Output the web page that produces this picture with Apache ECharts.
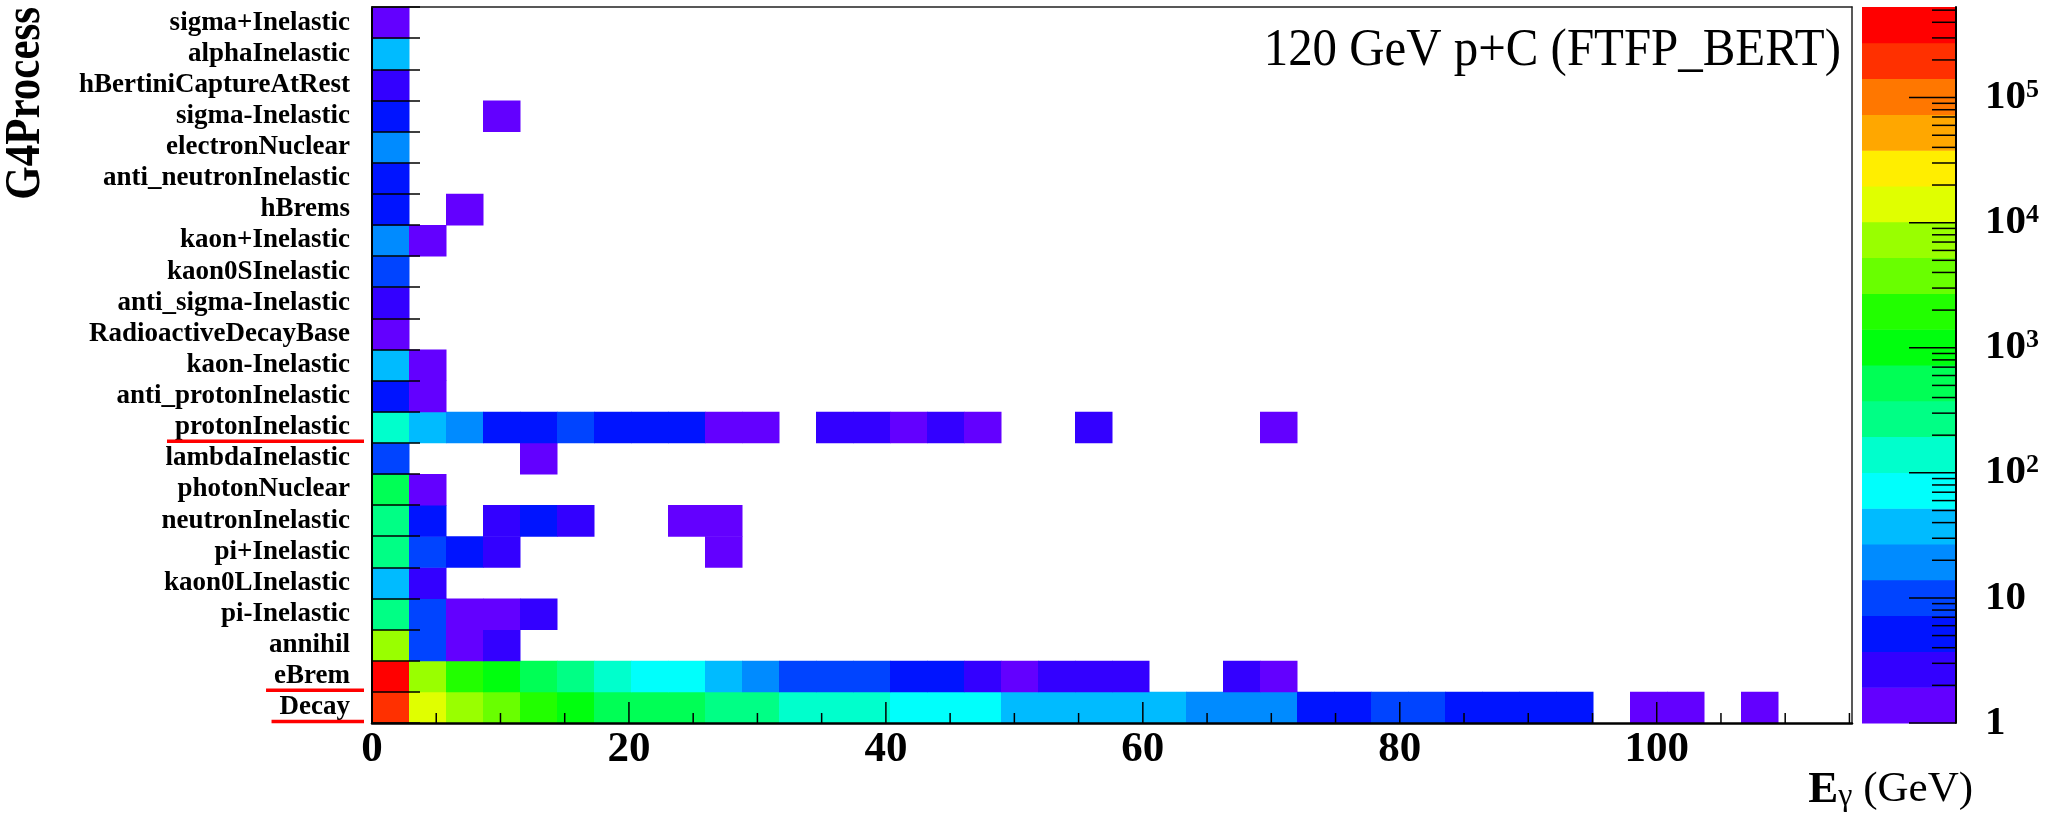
<!DOCTYPE html>
<html>
<head>
<meta charset="utf-8">
<title>G4Process vs photon energy</title>
<script src="https://cdn.jsdelivr.net/npm/echarts@6/dist/echarts.min.js"></script>
<style>
  html, body { margin: 0; padding: 0; background: #ffffff; }
  #chart { width: 2055px; height: 817px; }
</style>
</head>
<body>
<div id="chart"></div>
<script>
// Photon energy binning: 40 bins of 2.88 GeV each
const binWidth = 2.88;
const xMax = 115.2;
const xMajorTicks = [0, 20, 40, 60, 80, 100];
const xMinorTicks = [5, 10, 15, 25, 30, 35, 45, 50, 55, 65, 70, 75, 85, 90, 95, 105, 110, 115];

// Upper end of the logarithmic colour scale (lower end is 1)
const zMax = 5.3e5;

// Creator processes, bottom row first
const processes = [
  'Decay', 'eBrem', 'annihil', 'pi-Inelastic', 'kaon0LInelastic', 'pi+Inelastic',
  'neutronInelastic', 'photonNuclear', 'lambdaInelastic', 'protonInelastic',
  'anti_protonInelastic', 'kaon-Inelastic', 'RadioactiveDecayBase', 'anti_sigma-Inelastic',
  'kaon0SInelastic', 'kaon+Inelastic', 'hBrems', 'anti_neutronInelastic', 'electronNuclear',
  'sigma-Inelastic', 'hBertiniCaptureAtRest', 'alphaInelastic', 'sigma+Inelastic'
];

// Rows whose labels are underlined
const highlighted = ['protonInelastic', 'eBrem', 'Decay'];

// Photon counts per energy bin, starting at bin 0 (trailing empty bins left out)
const decay = [210000, 16500, 8600, 4500, 2300, 1150, 640, 560, 450, 330, 250, 170, 140, 115, 90, 72, 60, 48, 42, 36, 32, 28, 22, 18, 15, 6, 5, 9, 8, 6, 5, 4, 4, 0, 1, 1, 0, 1];
const eBrem = [400000, 6800, 2200, 1100, 560, 300, 150, 90, 62, 40, 22, 12, 10, 9, 6, 5, 3, 1, 2, 2, 3, 0, 0, 2, 1];
const annihil = [7600, 10, 1, 3];
const piMinusInel = [310, 9, 1, 1, 2];
const kaon0LInel = [35, 2];
const piPlusInel = [260, 10, 5, 2, 0, 0, 0, 0, 0, 1];
const neutronInel = [290, 5, 0, 3, 6, 2, 0, 0, 1, 1];
const photonNuclear = [480, 1];
const lambdaInel = [11, 0, 0, 0, 1];
const protonInel = [150, 35, 18, 6, 5, 9, 5, 4, 4, 1, 1, 0, 2, 3, 1, 2, 1, 0, 0, 2, 0, 0, 0, 0, 1];
const antiProtonInel = [6, 1];
const kaonMinusInel = [33, 1];
const radioactiveDecay = [1];
const antiSigmaMinusInel = [3];
const kaon0SInel = [9];
const kaonPlusInel = [17, 1];
const hBrems = [5, 0, 1];
const antiNeutronInel = [5];
const electronNuclear = [21];
const sigmaMinusInel = [6, 0, 0, 1];
const hBertiniCapture = [2];
const alphaInel = [40];
const sigmaPlusInel = [1];

const countsByProcess = [
  decay, eBrem, annihil, piMinusInel, kaon0LInel, piPlusInel, neutronInel, photonNuclear,
  lambdaInel, protonInel, antiProtonInel, kaonMinusInel, radioactiveDecay, antiSigmaMinusInel,
  kaon0SInel, kaonPlusInel, hBrems, antiNeutronInel, electronNuclear, sigmaMinusInel,
  hBertiniCapture, alphaInel, sigmaPlusInel
];

// 20 contour colours, violet (low) to red (high)
const palette = [
  '#6300ff', '#3300ff', '#0014ff', '#0044ff', '#008bff', '#00bbff', '#00fffc',
  '#00ffcc', '#00ff85', '#00ff55', '#00ff0e', '#22ff00', '#69ff00', '#99ff00',
  '#e0ff00', '#ffee00', '#ffa700', '#ff7700', '#ff3000', '#ff0000'
];

const serif = '"Liberation Serif", "Times New Roman", serif';

// Contour edges, evenly spaced in log10 between 1 and zMax
const logMax = Math.log10(zMax);
const edges = palette.map((_, k) => Math.pow(10, logMax * k / palette.length)).concat([zMax]);

const cellData = [];
countsByProcess.forEach((row, r) => {
  row.forEach((c, b) => {
    if (c > 0) cellData.push([b * binWidth, r, c, (b + 1) * binWidth]);
  });
});

const bandData = palette.map((_, k) => [edges[k], edges[k + 1], Math.sqrt(edges[k] * edges[k + 1])]);

const zTickData = [];
for (let e = 0; e <= Math.floor(logMax); e++) {
  for (let m = 1; m <= 9; m++) {
    const v = m * Math.pow(10, e);
    if (v <= zMax) zTickData.push([v, m === 1 ? 1 : 0]);
  }
}
const xTickData = xMajorTicks.map(v => [v, 1]).concat(xMinorTicks.map(v => [v, 0]));

function renderCell(params, api) {
  const p0 = api.coord([api.value(0), api.value(1)]);
  const p1 = api.coord([api.value(3), api.value(1)]);
  const h = api.size([0, 1])[1];
  return {
    type: 'rect',
    shape: { x: p0[0], y: p0[1] - h / 2, width: p1[0] - p0[0] + 0.5, height: h + 0.5 },
    style: { fill: api.visual('color') }
  };
}

function renderBand(params, api) {
  const a = api.coord([0, api.value(0)]);
  const b = api.coord([1, api.value(1)]);
  return {
    type: 'rect',
    shape: { x: a[0], y: b[1], width: b[0] - a[0], height: a[1] - b[1] + 0.5 },
    style: { fill: api.visual('color') }
  };
}

function renderZTick(params, api) {
  const p = api.coord([1, api.value(0)]);
  const len = api.value(1) ? 47 : 24;
  return {
    type: 'line',
    shape: { x1: p[0] - len, y1: p[1], x2: p[0], y2: p[1] },
    style: { stroke: '#000', lineWidth: 1.5 }
  };
}

function renderXTick(params, api) {
  const p = api.coord([api.value(0), 0]);
  const yb = p[1] + api.size([0, 1])[1] / 2;
  const len = api.value(1) ? 21 : 10;
  return {
    type: 'line',
    shape: { x1: p[0], y1: yb, x2: p[0], y2: yb - len },
    style: { stroke: '#000', lineWidth: 1.5 }
  };
}

function zLabel(v) {
  const e = Math.log10(v);
  const n = Math.round(e);
  if (Math.abs(e - n) > 1e-6) return '';
  if (n === 0) return '{b|1}';
  if (n === 1) return '{b|10}';
  return '{b|10}{s|' + n + '}';
}

const chart = echarts.init(document.getElementById('chart'), null, { renderer: 'canvas' });

chart.setOption({
  backgroundColor: '#ffffff',
  animation: false,
  grid: [
    { left: 372, top: 7, width: 1480, height: 716, outerBoundsMode: 'none' },
    { left: 1862, top: 7, width: 94, height: 716, outerBoundsMode: 'none' }
  ],
  xAxis: [
    {
      type: 'value', gridIndex: 0, min: 0, max: xMax, interval: 20, z: 10,
      axisLine: { show: true, onZero: false, lineStyle: { color: '#000', width: 2.5 } },
      axisTick: { show: false },
      splitLine: { show: false },
      axisLabel: {
        margin: 5, color: '#000', fontFamily: serif, fontWeight: 'bold', fontSize: 43,
        formatter: v => (Math.abs(v % 20) < 1e-9 ? String(v) : '')
      }
    },
    { type: 'value', gridIndex: 1, min: 0, max: 1, show: false },
    {
      type: 'value', gridIndex: 0, position: 'top', min: 0, max: xMax, z: 10,
      axisLine: { show: true, onZero: false, lineStyle: { color: '#222', width: 1.5 } },
      axisTick: { show: false }, axisLabel: { show: false }, splitLine: { show: false }
    }
  ],
  yAxis: [
    {
      type: 'category', gridIndex: 0, data: processes, z: 10,
      axisLine: { show: true, onZero: false, lineStyle: { color: '#000', width: 2 } },
      axisTick: { show: true, inside: true, length: 48, lineStyle: { color: '#000', width: 1.5 } },
      axisLabel: {
        interval: 0, margin: 22, color: '#000', fontFamily: serif, fontWeight: 'bold', fontSize: 27
      },
      splitLine: { show: false }
    },
    {
      type: 'log', logBase: 10, gridIndex: 1, position: 'right', min: 1, max: zMax, z: 10,
      axisLine: { show: true, onZero: false, lineStyle: { color: '#000', width: 2 } },
      axisTick: { show: false },
      splitLine: { show: false },
      axisLabel: {
        margin: 29, color: '#000', fontFamily: serif, fontWeight: 'bold', fontSize: 41, lineHeight: 41,
        formatter: zLabel,
        rich: {
          b: { fontFamily: serif, fontWeight: 'bold', fontSize: 41, lineHeight: 41, color: '#000' },
          s: { fontFamily: serif, fontWeight: 'bold', fontSize: 26, lineHeight: 20, verticalAlign: 'top', color: '#000' }
        }
      }
    },
    {
      type: 'value', gridIndex: 0, position: 'right', min: 0, max: 1, z: 10,
      axisLine: { show: true, onZero: false, lineStyle: { color: '#222', width: 1.5 } },
      axisTick: { show: false }, axisLabel: { show: false }, splitLine: { show: false }
    }
  ],
  visualMap: {
    type: 'piecewise', show: false, seriesIndex: [0, 1], dimension: 2,
    pieces: palette.map((c, k) => (k === palette.length - 1
      ? { gte: edges[k], lte: edges[k + 1], color: c }
      : { gte: edges[k], lt: edges[k + 1], color: c }))
  },
  series: [
    {
      type: 'custom', name: 'counts', xAxisIndex: 0, yAxisIndex: 0,
      data: cellData, encode: { x: [0, 3], y: 1 }, renderItem: renderCell, z: 2
    },
    {
      type: 'custom', name: 'palette', xAxisIndex: 1, yAxisIndex: 1,
      data: bandData, encode: { y: [0, 1] }, renderItem: renderBand, z: 2
    },
    {
      type: 'custom', name: 'zTicks', xAxisIndex: 1, yAxisIndex: 1,
      data: zTickData, encode: { y: 0 }, renderItem: renderZTick, z: 12, silent: true
    },
    {
      type: 'custom', name: 'xTicks', xAxisIndex: 0, yAxisIndex: 0,
      data: xTickData, encode: { x: 0 }, renderItem: renderXTick, z: 12, silent: true
    }
  ]
});

// Underline the highlighted process labels, placed from the axis geometry
const measureCtx = document.createElement('canvas').getContext('2d');
measureCtx.font = 'bold 27px ' + serif;
const axisX = chart.convertToPixel({ xAxisIndex: 0 }, 0);
const rowH = Math.abs(chart.convertToPixel({ yAxisIndex: 0 }, 0) - chart.convertToPixel({ yAxisIndex: 0 }, 1));
const underlines = highlighted.map(name => {
  const yc = chart.convertToPixel({ yAxisIndex: 0 }, name);
  const w = measureCtx.measureText(name).width;
  const y = yc + rowH / 2 - 1.5;
  return {
    type: 'line', z: 20,
    shape: { x1: axisX - 22 - w - 8, y1: y, x2: axisX - 8, y2: y },
    style: { stroke: '#ff0000', lineWidth: 3.5 }
  };
});

chart.setOption({
  graphic: [
    {
      type: 'text', x: 1841, y: 51, scaleX: 0.94, z: 20,
      style: {
        text: '120 GeV p+C (FTFP_BERT)', font: '52px ' + serif, fill: '#000',
        align: 'right', textAlign: 'right', verticalAlign: 'middle', textVerticalAlign: 'middle'
      }
    },
    {
      type: 'text', x: 25.5, y: 7, rotation: Math.PI / 2, scaleY: 1.2, z: 20,
      style: {
        text: 'G4Process', font: 'bold 43px ' + serif, fill: '#000',
        align: 'right', textAlign: 'right', verticalAlign: 'middle', textVerticalAlign: 'middle'
      }
    },
    {
      type: 'text', x: 1973, y: 790, z: 20,
      style: {
        text: '{e|E}{g|γ}{u| (GeV)}', fill: '#000',
        align: 'right', textAlign: 'right', verticalAlign: 'middle', textVerticalAlign: 'middle',
        rich: {
          e: { font: 'bold 45px ' + serif, lineHeight: 45 },
          g: { font: '32px ' + serif, lineHeight: 32, verticalAlign: 'bottom', padding: [12, 0, 0, 0] },
          u: { font: '43px ' + serif, lineHeight: 45 }
        }
      }
    }
  ].concat(underlines)
});
</script>
</body>
</html>
